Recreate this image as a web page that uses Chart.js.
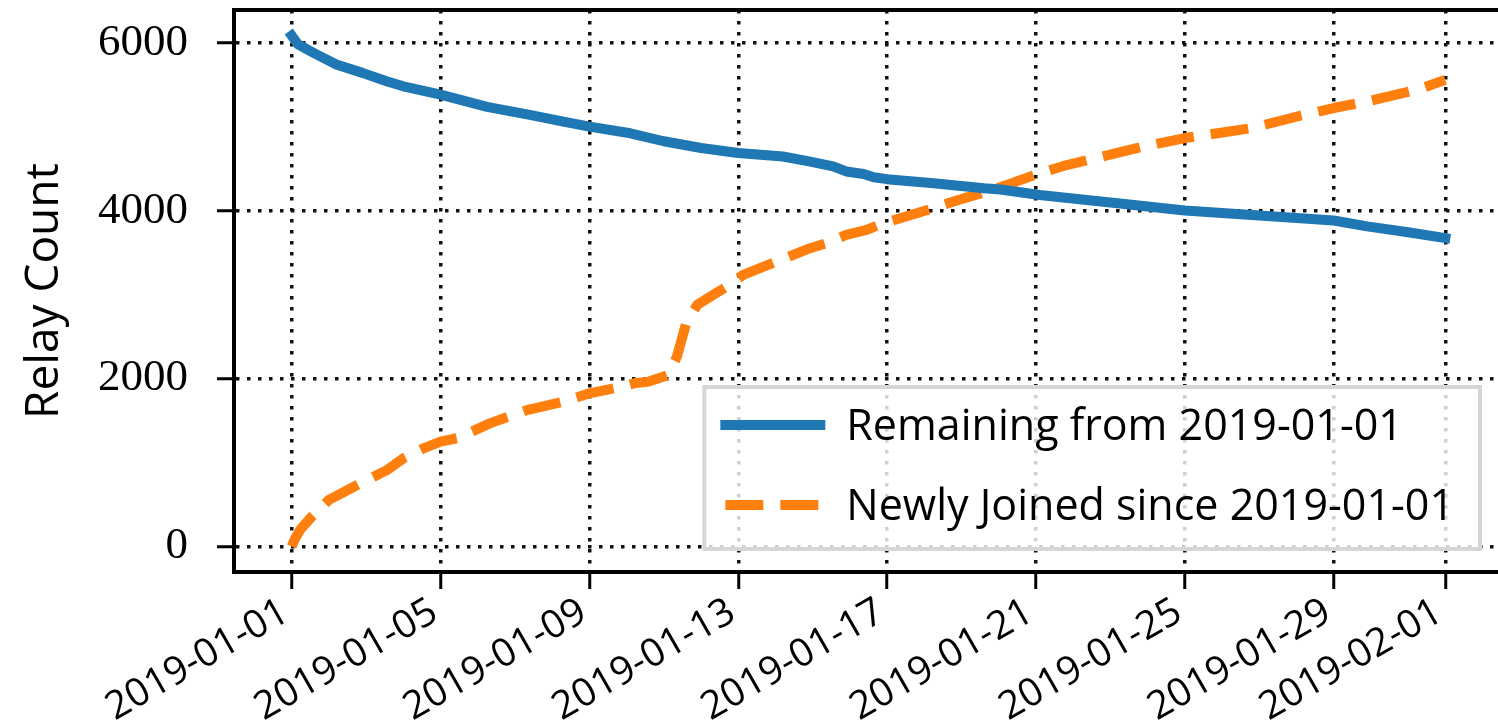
<!DOCTYPE html>
<html>
<head>
<meta charset="utf-8">
<script src="https://cdn.jsdelivr.net/npm/chart.js@4.4.1/dist/chart.umd.min.js"></script>
<style>
  html, body { margin: 0; padding: 0; background: #fff; overflow: hidden; }
  #wrap { width: 1498px; height: 723px; overflow: hidden; }
  canvas { display: block; }
</style>
</head>
<body>
<div id="wrap"><canvas id="relays" width="1503" height="723"></canvas></div>
<script>
// Days since 2019-01-01 and relay counts for each series
const remainingDays = [0, 0.17, 0.6, 1.2, 1.9, 2.55, 3.0, 4.0, 5.25, 6.4, 7.3, 8.0, 9.1, 10.0, 11.0, 12.0,
  13.2, 13.9, 14.55, 14.9, 15.37, 15.64, 16.0, 17.25, 18.6, 19.05, 20.1, 22.0, 24.0, 26.0, 28.0, 28.9, 30.0, 31.0];
const remainingCounts = [6090, 5985, 5880, 5745, 5645, 5545, 5485, 5385, 5240, 5145, 5065, 5005, 4925, 4830, 4750, 4690,
  4648, 4590, 4530, 4470, 4440, 4400, 4378, 4330, 4270, 4255, 4190, 4100, 4004, 3945, 3885, 3815, 3745, 3675];

const joinedDays = [0, 0.1, 0.23, 0.54, 1.0, 1.75, 2.56, 3.0, 3.54, 4.0, 4.44, 5.34, 6.32, 7.3, 8.0, 8.65, 9.2, 9.6,
  10.1, 10.35, 10.6, 10.9, 11.33, 11.7, 12.13, 13.03, 13.93, 14.37, 14.9, 15.45, 15.9, 16.35, 17.25, 17.78, 18.68,
  19.22, 20.1, 20.85, 22.9, 24.0, 25.8, 27.1, 28.0, 28.9, 30.25, 30.87, 31.0];
const joinedCounts = [0, 100, 200, 355, 555, 730, 910, 1050, 1170, 1250, 1290, 1470, 1625, 1725, 1825, 1885, 1945, 1965,
  2040, 2260, 2660, 2880, 3000, 3100, 3237, 3396, 3555, 3615, 3714, 3774, 3853, 3913, 4032, 4111, 4231,
  4310, 4449, 4549, 4768, 4868, 4987, 5134, 5226, 5305, 5444, 5542, 5560];

const seriesLabels = ['Remaining from 2019-01-01', 'Newly Joined since 2019-01-01'];

const dateTickDays = [0, 4, 8, 12, 16, 20, 24, 28, 31];
const dateTickLabels = ['2019-01-01', '2019-01-05', '2019-01-09', '2019-01-13', '2019-01-17',
  '2019-01-21', '2019-01-25', '2019-01-29', '2019-02-01'];
const countTicks = [0, 2000, 4000, 6000];

// 5% padding around the data range on both axes
const allDays = remainingDays.concat(joinedDays);
const allCounts = remainingCounts.concat(joinedCounts);
const dayLo = Math.min(...allDays), dayHi = Math.max(...allDays);
const cntLo = Math.min(...allCounts), cntHi = Math.max(...allCounts);
const xMin = dayLo - 0.05 * (dayHi - dayLo), xMax = dayHi + 0.05 * (dayHi - dayLo);
const yMin = cntLo - 0.05 * (cntHi - cntLo), yMax = cntHi + 0.05 * (cntHi - cntLo);

const SANS = '"Open Sans", "DejaVu Sans", sans-serif';
const SERIF = '"Liberation Serif", "DejaVu Serif", serif';
const toPoints = (xs, ys) => xs.map((x, i) => ({ x: x, y: ys[i] }));

const dottedGrid = {
  color: '#111', lineWidth: 3.5, drawTicks: true, tickLength: 17,
  tickWidth: 3, tickColor: '#000', tickBorderDash: []
};
const spine = { display: true, color: '#000', width: 4, dash: [3.5, 7.5] };

// Boxed legend in the lower-right corner of the plot area
const cornerLegend = {
  id: 'cornerLegend',
  afterDraw(chart) {
    const { ctx, chartArea } = chart;
    const sets = chart.data.datasets;
    ctx.save();
    ctx.font = '43px ' + SANS;
    const textW = Math.max(...sets.map(d => ctx.measureText(d.label).width));
    const padL = 16, handleLen = 105, gap = 21, padR = 26, boxH = 162;
    const w = padL + handleLen + gap + textW + padR;
    const right = chartArea.right - 23, bottom = chartArea.bottom - 23;
    const left = right - w, top = bottom - boxH;
    ctx.fillStyle = 'rgba(255,255,255,0.8)';
    ctx.fillRect(left, top, w, boxH);
    ctx.strokeStyle = '#d6d6d6';
    ctx.lineWidth = 4;
    ctx.strokeRect(left, top, w, boxH);
    const rows = [top + 38, top + 118];
    sets.forEach((d, i) => {
      const y = rows[i];
      ctx.beginPath();
      ctx.strokeStyle = d.borderColor;
      ctx.lineWidth = d.borderWidth;
      ctx.lineCap = 'butt';
      ctx.setLineDash(d.borderDash || []);
      ctx.lineDashOffset = d.borderDash ? 50 : 0;
      ctx.moveTo(left + padL, y);
      ctx.lineTo(left + padL + handleLen, y);
      ctx.stroke();
      ctx.setLineDash([]);
      ctx.fillStyle = '#000';
      ctx.textAlign = 'left';
      ctx.textBaseline = 'middle';
      ctx.fillText(d.label, left + padL + handleLen + gap, y + 3);
    });
    ctx.restore();
  }
};

new Chart(document.getElementById('relays'), {
  type: 'line',
  data: {
    datasets: [
      {
        label: seriesLabels[0],
        data: toPoints(remainingDays, remainingCounts),
        borderColor: '#1f77b4', borderWidth: 10, pointRadius: 0, tension: 0,
        borderCapStyle: 'square', borderJoinStyle: 'round', fill: false
      },
      {
        label: seriesLabels[1],
        data: toPoints(joinedDays, joinedCounts),
        borderColor: '#ff7f0e', borderWidth: 10, borderDash: [38, 17], pointRadius: 0, tension: 0,
        borderCapStyle: 'butt', borderJoinStyle: 'round', fill: false
      }
    ]
  },
  options: {
    responsive: false,
    animation: false,
    devicePixelRatio: 1,
    layout: { padding: { top: 10, left: 0, right: 0, bottom: 0 } },
    plugins: { legend: { display: false }, tooltip: { enabled: false } },
    scales: {
      x: {
        type: 'linear', position: 'bottom', min: xMin, max: xMax,
        afterBuildTicks: s => { s.ticks = dateTickDays.map(v => ({ value: v })); },
        afterFit: s => { s.height = 151; s.paddingLeft = 0; s.paddingRight = 0; },
        ticks: {
          callback: (v, i) => dateTickLabels[i],
          minRotation: 30, maxRotation: 30, autoSkip: false, labelOffset: -6,
          font: { family: SANS, size: 39 }, color: '#000', padding: 0
        },
        grid: dottedGrid,
        border: spine
      },
      xTop: {
        type: 'linear', position: 'top', min: xMin, max: xMax,
        afterFit: s => { s.height = 0; s.paddingLeft = 0; s.paddingRight = 0; },
        ticks: { display: false },
        grid: { display: true, drawOnChartArea: false, drawTicks: false, lineWidth: 0 },
        border: { display: true, color: '#000', width: 4 }
      },
      y: {
        type: 'linear', min: yMin, max: yMax,
        afterBuildTicks: s => { s.ticks = countTicks.map(v => ({ value: v })); },
        afterFit: s => { s.width = 234; s.paddingTop = 0; s.paddingBottom = 0; },
        ticks: {
          callback: v => String(v),
          font: { family: SERIF, size: 45 }, color: '#000', padding: 29
        },
        grid: dottedGrid,
        border: spine,
        title: {
          display: true, text: 'Relay Count', color: '#000',
          font: { family: SANS, size: 46 }, padding: { top: 17, bottom: 0 }
        }
      }
    }
  },
  plugins: [cornerLegend]
});
</script>
</body>
</html>
